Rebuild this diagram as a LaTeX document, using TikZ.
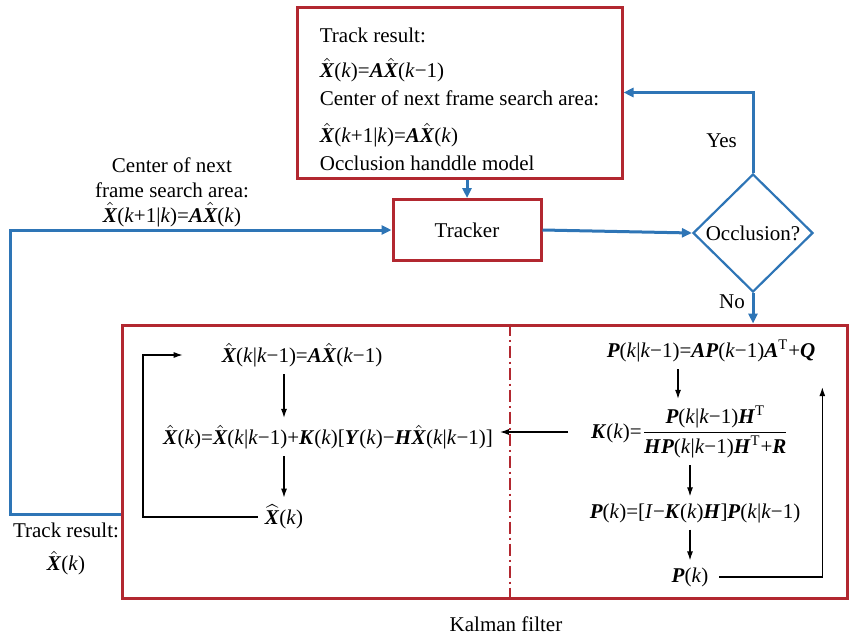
\documentclass[tikz,border=0pt]{standalone}
\usepackage{amsmath}
\usepackage{fontspec}
\setmainfont{Liberation Serif}
\usetikzlibrary{shapes.geometric}
\usetikzlibrary{arrows.meta}
\usetikzlibrary{positioning}
\usepackage{xcolor}

\definecolor{boxred}{RGB}{178,40,48}
\definecolor{flowblue}{RGB}{46,117,182}

% bold italic letters and the plain italic k, all in the text font
\newcommand{\vX}{\textbf{\textit{X}}}
\newcommand{\vA}{\textbf{\textit{A}}}
\newcommand{\vP}{\textbf{\textit{P}}}
\newcommand{\vK}{\textbf{\textit{K}}}
\newcommand{\vH}{\textbf{\textit{H}}}
\newcommand{\vQ}{\textbf{\textit{Q}}}
\newcommand{\vR}{\textbf{\textit{R}}}
\newcommand{\vY}{\textbf{\textit{Y}}}
\newcommand{\ki}{\textit{k}}
\newcommand{\hX}{\ensuremath{\hat{\text{\vX}}}}
\newcommand{\wX}{\ensuremath{\widehat{\text{\vX}}}}
\newcommand{\tT}{\textsuperscript{T}}

\tikzset{
  redbox/.style={draw=boxred, line width=1.5pt, rectangle},
  flow/.style={draw=flowblue, line width=1.5pt, -{Triangle[length=5pt,width=4.5pt]}},
  arr/.style={draw=black, line width=0.6pt, -{Latex[length=4.5pt,width=3pt]}},
  divider/.style={draw=boxred, line width=0.6pt, dash pattern=on 6pt off 2pt on 1pt off 2pt},
}

\begin{document}
\begin{tikzpicture}[x=0.5pt, y=-0.5pt, font=\fontsize{10.5}{12.5}\selectfont]
    \useasboundingbox (0,0) rectangle (850,637);

    % nodes
    \node[redbox, minimum width=162.5pt, minimum height=85.5pt, align=left] (result) at (459.5,92.5)
        {\rule{0pt}{14.5pt}Track result:\\[5pt]
         \hX(\ki)=\vA\hX(\ki−1)\\[1.5pt]
         Center of next frame search area:\\[6pt]
         \hX(\ki+1|\ki)=\vA\hX(\ki)\\[1.5pt]
         Occlusion handdle model};
    \node[redbox, minimum width=74pt, minimum height=30.5pt] (tracker) at (467,230) {Tracker};
    \node[draw=flowblue, line width=1.1pt, diamond, inner sep=0pt, minimum width=60pt, minimum height=59pt] (occl) at (753,233) {Occlusion?};
    \node[redbox, minimum width=362.5pt, minimum height=136.5pt] (kalman) at (484.5,461.5) {};
    \node[below=5pt of kalman.south, xshift=10.75pt] (kflabel) {Kalman filter};

    \node[align=center] (nextlbl) at (172,192) {Center of next\\frame search area:\\\hX(\ki+1|\ki)=\vA\hX(\ki)};
    \node[align=center] (reslbl) at (66,549) {Track result:\\[4pt]\hX(\ki)};

    \node (xpred) at (302,355) {\hX(\ki|\ki−1)=\vA\hX(\ki−1)};
    \node (xupd) at (328,437) {\hX(\ki)=\hX(\ki|\ki−1)+\vK(\ki)[\vY(\ki)−\vH\hX(\ki|\ki−1)]};
    \node (xbar) at (284,517) {\wX(\ki)};

    \node (ppred) at (711,351) {\vP(\ki|\ki−1)=\vA\vP(\ki−1)\vA\tT+\vQ};
    \node (kgain) at (690,432) {\vK(\ki)=$\dfrac{\text{\vP(\ki|\ki−1)\vH\tT}}{\text{\vH\vP(\ki|\ki−1)\vH\tT+\vR}}$};
    \node (pupd) at (695,513) {\vP(\ki)=[\textit{I}−\vK(\ki)\vH]\vP(\ki|\ki−1)};
    \node (pk) at (690,577) {\vP(\ki)};

    \coordinate[left=16pt of xpred.west] (xin);
    \coordinate[xshift=-6pt] (pin) at (pk.north);

    % edges
    \draw[divider] (kalman.north -| 510,0) -- (kalman.south -| 510,0);

    \draw[flow] (tracker.north |- result.south) -- (tracker.north);
    \draw[flow] (tracker.east) -- (occl.west);
    \draw[flow] (occl.north) |- (result.east) node[pos=0.2, left=4pt] {Yes};
    \draw[flow] (occl.south) -- (occl.south |- kalman.north) node[pos=0.3, left=0pt] {No};
    \draw[flow] ([yshift=42.5pt]kalman.south west) -- ++(-110,0) |- (tracker.west);

    \draw[arr] (xbar.north |- xpred.south) -- (xbar.north |- xupd.north);
    \draw[arr] (xbar.north |- xupd.south) -- (xbar.north);
    \draw[arr] (xbar.west) -- ++(-115,0) |- (xin);
    \draw[arr, shorten <=8pt] (kgain.west) -- (kgain.west -| xupd.east);

    \draw[arr] (pin |- ppred.south) -- (pin |- kgain.north);
    \draw[arr] (kgain.south) -- (kgain.south |- pupd.north);
    \draw[arr] (pupd.south -| kgain.south) -- (kgain.south |- pk.north);
    \draw[arr] ([xshift=2pt]pk.east) -| ([yshift=-9pt]ppred.south east);

\end{tikzpicture}
\end{document}
